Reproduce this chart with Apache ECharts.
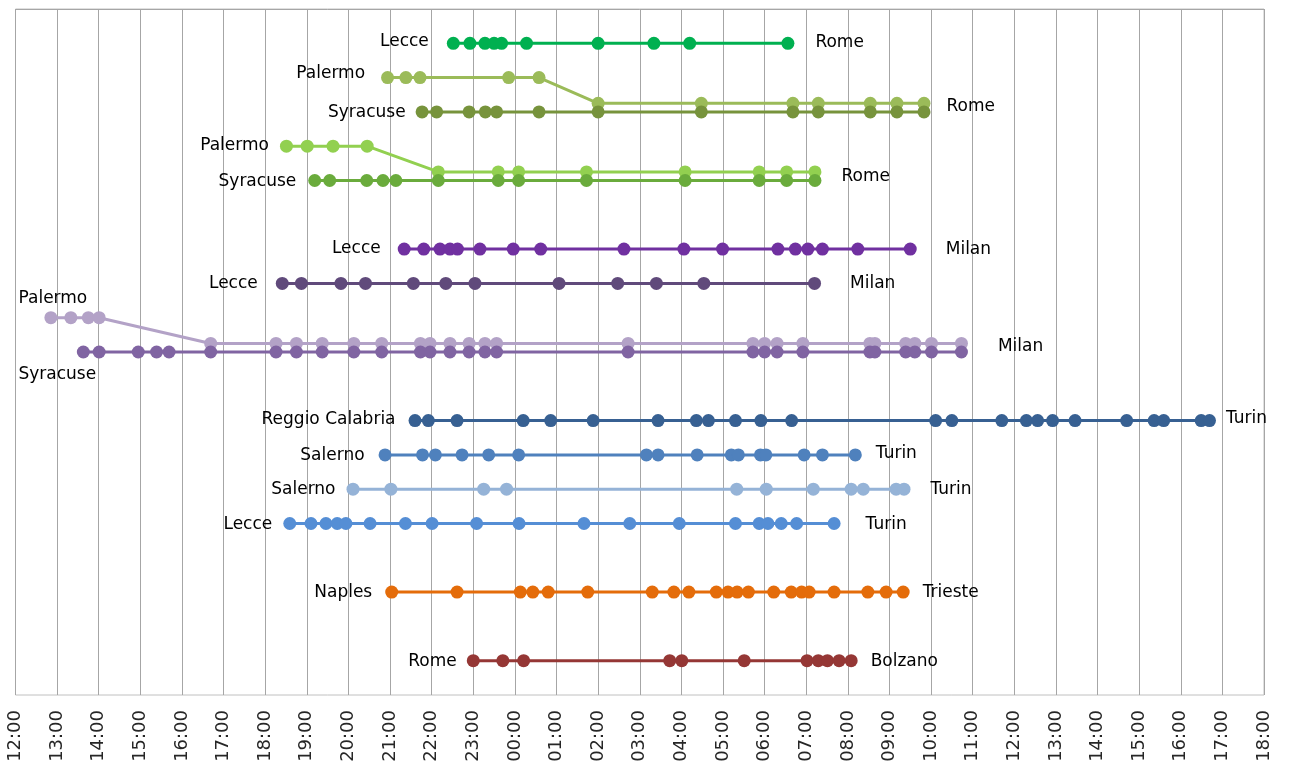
<!DOCTYPE html>
<html><head><meta charset="utf-8">
<script src="https://cdn.jsdelivr.net/npm/echarts@6/dist/echarts.min.js"></script>
<style>html,body{margin:0;padding:0;background:#fff}#chart{width:1290px;height:772px}</style>
</head><body><div id="chart"></div>
<script>
// ---------- DATA ----------
const hourLabels = ['12:00','13:00','14:00','15:00','16:00','17:00','18:00','19:00','20:00','21:00','22:00','23:00',
  '00:00','01:00','02:00','03:00','04:00','05:00','06:00','07:00','08:00','09:00','10:00','11:00',
  '12:00','13:00','14:00','15:00','16:00','17:00','18:00'];

// stop times, in hours after 12:00 of the first day
const lecceRome = [10.52,10.92,11.28,11.50,11.68,12.28,14.00,15.34,16.20,18.56];
const palermoRomeA_before = [8.94,9.38,9.72,11.85,12.58];
const palermoRomeA_after = [14.00,16.48,18.68,19.29,20.54,21.18,21.83];
const syracuseRomeA = [9.77,10.12,10.90,11.29,11.56,12.58,14.00,16.48,18.68,19.29,20.54,21.18,21.83];
const palermoRomeB_before = [6.51,7.01,7.63,8.45];
const palermoRomeB_after = [10.16,11.60,12.09,13.72,16.09,17.87,18.53,19.21];
const syracuseRomeB = [7.19,7.55,8.44,8.83,9.14,10.16,11.60,12.09,13.72,16.09,17.87,18.53,19.21];
const lecceMilanA = [9.34,9.81,10.20,10.44,10.62,11.16,11.96,12.62,14.62,16.06,16.99,18.32,18.74,19.04,19.39,20.24,21.50];
const lecceMilanB = [6.41,6.87,7.82,8.41,9.56,10.34,11.04,13.06,14.47,15.40,16.54,19.20];
const palermoMilan_before = [0.85,1.33,1.75,2.01];
const palermoMilan_after = [4.69,6.26,6.75,7.37,8.13,8.80,9.73,9.96,10.44,10.90,11.28,11.56,14.72,17.72,18.00,18.30,18.92,20.53,20.65,21.39,21.61,22.01,22.73];
const syracuseMilan = [1.63,2.01,2.95,3.39,3.69,4.69,6.26,6.75,7.37,8.13,8.80,9.73,9.96,10.44,10.90,11.28,11.56,14.72,17.72,18.00,18.30,18.92,20.53,20.65,21.39,21.61,22.01,22.73];
const reggioTurin = [9.60,9.92,10.61,12.20,12.86,13.88,15.44,16.36,16.65,17.30,17.91,18.65,22.11,22.50,23.70,24.29,24.56,24.92,25.46,26.70,27.36,27.59,28.49,28.69];
const salernoTurinA = [8.88,9.78,10.09,10.73,11.37,12.09,15.16,15.44,16.38,17.20,17.37,17.90,18.03,18.95,19.39,20.18];
const salernoTurinB = [8.11,9.02,11.25,11.80,17.33,18.04,19.17,20.08,20.37,21.16,21.35];
const lecceTurin = [6.59,7.10,7.46,7.73,7.94,8.52,9.37,10.01,11.08,12.10,13.66,14.76,15.95,17.30,17.87,18.08,18.40,18.77,19.67];
const naplesTrieste = [9.04,10.61,12.13,12.43,12.80,13.75,15.30,15.82,16.18,16.84,17.12,17.34,17.61,18.22,18.64,18.89,19.07,19.67,20.48,20.92,21.33];
const romeBolzano = [11.00,11.71,12.21,15.72,16.01,17.51,19.02,19.29,19.51,19.79,20.08];

const origins = ['Lecce','Palermo','Syracuse','Palermo','Syracuse','Lecce','Lecce','Palermo','Syracuse','Reggio Calabria','Salerno','Salerno','Lecce','Naples','Rome'];
const destinations = ['Rome','','Rome','','Rome','Milan','Milan','','Milan','Turin','Turin','Turin','Turin','Trieste','Bolzano'];
const rowLevels = [1,2,3,4,5,7,8,9,10,12,13,14,15,17,19];
// each route: stops before joining, stops after joining (drawn on a lane just below)
const routeStops = [
  [lecceRome, []],
  [palermoRomeA_before, palermoRomeA_after],
  [syracuseRomeA, []],
  [palermoRomeB_before, palermoRomeB_after],
  [syracuseRomeB, []],
  [lecceMilanA, []],
  [lecceMilanB, []],
  [palermoMilan_before, palermoMilan_after],
  [syracuseMilan, []],
  [reggioTurin, []],
  [salernoTurinA, []],
  [salernoTurinB, []],
  [lecceTurin, []],
  [naplesTrieste, []],
  [romeBolzano, []]
];

// ---------- STYLE ----------
const colors = ['#00b050','#9bbb59','#77933c','#92d050','#6aab3c','#7030a0','#604a7b','#b3a2c7','#8064a2',
  '#376092','#4f81bd','#95b3d7','#558ed5','#e46c0a','#953735'];
const joinedLaneShift = 0.75;
// [origin position, distance, offset], [destination distance, offset]
const originLabelStyle = [
  ['left',18,[0,-2]],['left',16,[0,-4]],['left',10,[0,1]],['left',11,[0,-1]],['left',12,[0,1]],
  ['left',17,[0,-1]],['left',18,[0,0]],['top',4,[2,0]],['bottom',7,[-26,1]],
  ['left',13,[0,-1]],['left',14,[0,1]],['left',11,[0,0]],['left',11,[0,1]],['left',13,[0,0]],['left',10,[0,1]]
];
const destLabelStyle = [
  [21,[0,-1]],null,[16,[0,-5]],null,[20,[0,-4]],
  [29,[0,0]],[29,[0,0]],null,[30,[0,-5]],
  [10,[0,-2]],[14,[0,-1]],[20,[0,0]],[25,[0,1]],[13,[0,0]],[13,[0,1]]
];
const textStyle = {fontFamily:'DejaVu Sans', fontSize:17, color:'#000'};

const series = routeStops.map(function (stops, i) {
  const pts = [];
  stops[0].forEach(function (t) { pts.push([t, rowLevels[i]]); });
  stops[1].forEach(function (t) { pts.push([t, rowLevels[i] + joinedLaneShift]); });
  const data = pts.map(function (p) { return {value: p}; });
  const o = originLabelStyle[i];
  data[0].label = Object.assign({show:true, position:o[0], distance:o[1], offset:o[2], formatter:origins[i]}, textStyle);
  const d = destLabelStyle[i];
  if (d) {
    data[data.length - 1].label = Object.assign({show:true, position:'right', distance:d[0], offset:d[1], formatter:destinations[i]}, textStyle);
  }
  return {
    type:'line', name: origins[i] + '-' + destinations[i], data: data,
    symbol:'circle', symbolSize:13, showAllSymbol:true,
    lineStyle:{color:colors[i], width:3}, itemStyle:{color:colors[i]},
    label:{show:false}, emphasis:{disabled:true}, animation:false, z: 2
  };
});

const chart = echarts.init(document.getElementById('chart'));
chart.setOption({
  backgroundColor:'#fff',
  animation:false,
  grid:{left:15.5, right:26, top:9, bottom:77, show:true, borderColor:'#c0c0c0', borderWidth:1},
  xAxis:{type:'value', min:0, max:30, interval:1,
    axisLine:{lineStyle:{color:'#a6a6a6', width:1}},
    axisTick:{show:true, length:7, lineStyle:{color:'#a6a6a6'}},
    splitLine:{show:true, lineStyle:{color:'#a6a6a6', width:1}},
    axisLabel:{rotate:90, margin:15, fontFamily:'DejaVu Sans', fontSize:18, color:'#262626',
      formatter:function (v) { return hourLabels[Math.round(v)]; }}
  },
  yAxis:{type:'value', min:0, max:20, inverse:true, show:false, splitLine:{show:false}},
  series: series
});
</script>
</body></html>
